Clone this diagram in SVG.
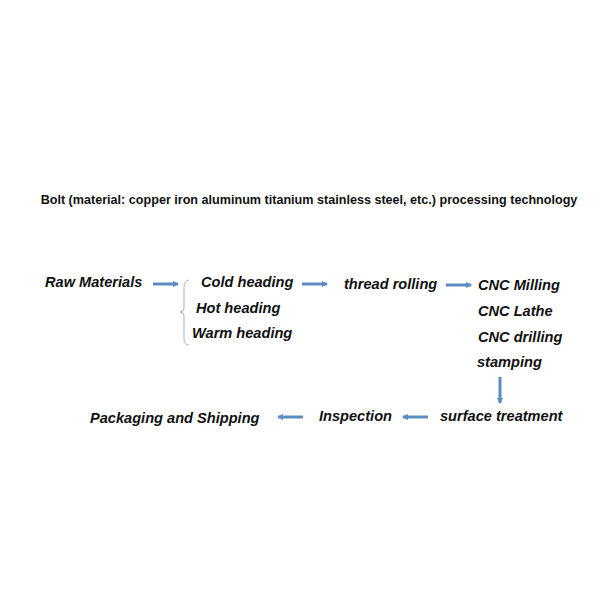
<svg xmlns="http://www.w3.org/2000/svg" width="600" height="600" viewBox="0 0 600 600">
<defs>
<style>
.t{font-family:"Liberation Sans",Arial,sans-serif;font-weight:bold;font-style:italic;font-size:14.6px;fill:#111}
.title{font-family:"Liberation Sans",Arial,sans-serif;font-weight:bold;font-size:12.6px;fill:#111}
.c line{stroke:#5b8cc4;stroke-width:3;marker-end:url(#ah)}
</style>
<marker id="ah" viewBox="0 0 6 6" refX="5" refY="3" markerWidth="2" markerHeight="2" orient="auto" markerUnits="strokeWidth">
<path d="M0,0 L6,3 L0,6 Z" fill="#5b8cc4"/>
</marker>
</defs>
<rect width="600" height="600" fill="#fff"/>
<text class="title" x="309" y="204" text-anchor="middle">Bolt (material: copper iron aluminum titanium stainless steel, etc.) processing technology</text>
<g id="raw"><text class="t" x="45" y="287">Raw Materials</text></g>
<g id="heading">
<path d="M189,280 Q184,281 184,287 L184,308 Q184,312 180,312 Q184,312 184,316 L184,339 Q184,345 189,345" fill="none" stroke="#9fb3cf" stroke-width="1"/>
<text class="t" x="201" y="287">Cold heading</text>
<text class="t" x="196" y="313">Hot heading</text>
<text class="t" x="192" y="338">Warm heading</text>
</g>
<g id="thread"><text class="t" x="344" y="289">thread rolling</text></g>
<g id="cnc">
<text class="t" x="478" y="290">CNC Milling</text>
<text class="t" x="478" y="316">CNC Lathe</text>
<text class="t" x="478" y="342">CNC drilling</text>
<text class="t" x="477" y="367">stamping</text>
</g>
<g id="surface"><text class="t" x="440" y="421">surface treatment</text></g>
<g id="inspection"><text class="t" x="319" y="421">Inspection</text></g>
<g id="packaging"><text class="t" x="90" y="423">Packaging and Shipping</text></g>
<g class="c" id="connectors">
<line x1="153" y1="284" x2="178" y2="284"/>
<line x1="302" y1="284" x2="327" y2="284"/>
<line x1="446" y1="285" x2="471" y2="285"/>
<line x1="500" y1="377" x2="500" y2="403"/>
<line x1="428" y1="417" x2="403" y2="417"/>
<line x1="303" y1="417" x2="278" y2="417"/>
</g>
</svg>
